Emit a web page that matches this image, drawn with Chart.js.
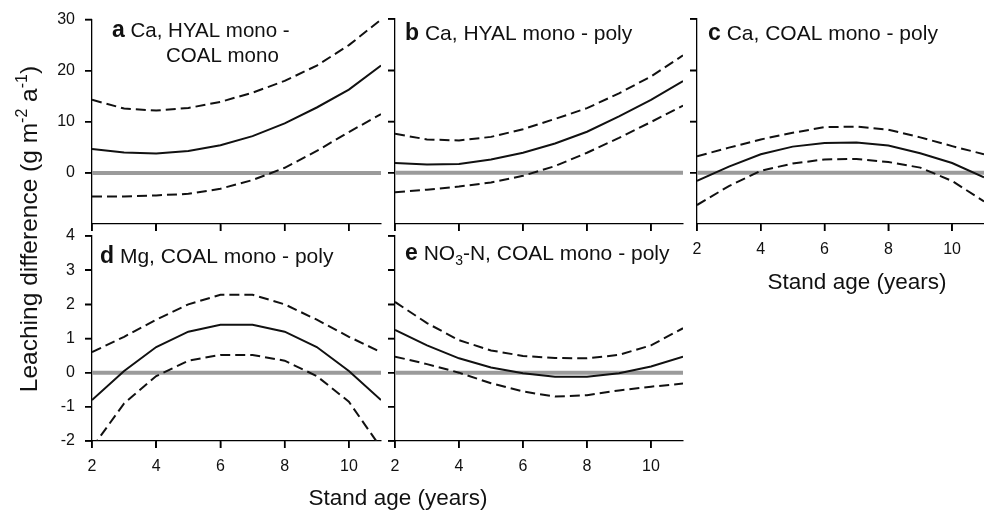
<!DOCTYPE html>
<html><head><meta charset="utf-8">
<script src="https://cdn.jsdelivr.net/npm/chart.js@4.4.1/dist/chart.umd.min.js"></script>
<style>
html,body{margin:0;padding:0;background:#fff;}
#wrap{position:relative;width:984px;height:511px;overflow:hidden;background:#fff;}
#wrap canvas{position:absolute;left:0;top:0;}
</style></head><body><div id="wrap">
<canvas id="pa" width="984" height="511"></canvas>
<canvas id="pb" width="984" height="511"></canvas>
<canvas id="pc" width="984" height="511"></canvas>
<canvas id="pd" width="984" height="511"></canvas>
<canvas id="pe" width="984" height="511"></canvas>
</div>
<script>
// ---- data ----
const standAge = [2,3,4,5,6,7,8,9,10,11];
const zeroX = [2,11];
const zeroY = [0,0];
const xTickVals = [2,4,6,8,10];
const caTickVals = [0,10,20,30];
const smallTickVals = [-2,-1,0,1,2,3,4];

const aMean  = [4.7,4.0,3.8,4.3,5.4,7.2,9.7,12.8,16.3,21.0];
const aUpper = [14.3,12.6,12.2,12.7,13.9,15.7,18.0,21.0,25.0,30.0];
const aLower = [-4.6,-4.6,-4.4,-4.1,-3.1,-1.4,1.0,4.3,8.0,11.5];

const bMean  = [1.9,1.6,1.7,2.6,3.9,5.7,8.0,11.0,14.2,17.9];
const bUpper = [7.6,6.5,6.3,7.0,8.5,10.5,12.6,15.5,18.8,22.9];
const bLower = [-3.8,-3.3,-2.7,-1.9,-0.6,1.3,3.9,6.8,9.9,13.1];

const cMean  = [-1.6,1.2,3.6,5.1,5.8,5.9,5.3,3.8,1.9,-0.9];
const cUpper = [3.2,4.9,6.5,7.8,8.9,9.0,8.4,6.9,5.2,3.6];
const cLower = [-6.3,-2.6,0.4,1.8,2.6,2.7,2.1,1.0,-1.6,-5.6];

const dMean  = [-0.8,0.05,0.75,1.2,1.4,1.4,1.2,0.75,0.05,-0.8];
const dUpper = [0.6,1.05,1.55,2.0,2.28,2.28,2.0,1.55,1.05,0.6];
const dLower = [-2.2,-0.9,-0.1,0.35,0.52,0.52,0.35,-0.1,-0.85,-2.2];

const eMean  = [1.25,0.8,0.42,0.15,-0.02,-0.12,-0.12,-0.02,0.18,0.47];
const eUpper = [2.07,1.45,0.95,0.65,0.49,0.43,0.42,0.52,0.8,1.3];
const eLower = [0.47,0.25,0.0,-0.31,-0.55,-0.7,-0.66,-0.52,-0.41,-0.32];

// ---- helpers ----
const FAM = "'Liberation Sans', Arial, Helvetica, sans-serif";
const INK = '#111111';
const zip = (xs, ys) => xs.map((x,i)=>({x:x, y:ys[i]}));

function drawRich(ctx, x, y, parts){
  for (const p of parts){
    ctx.font = p.font;
    ctx.fillText(p.t, x, y + (p.dy||0));
    x += ctx.measureText(p.t).width;
  }
}
function richWidth(ctx, parts){
  let w = 0;
  for (const p of parts){ ctx.font = p.font; w += ctx.measureText(p.t).width; }
  return w;
}
const BOLD = 'bold 23px ' + FAM;
const REG = '21px ' + FAM;
const REG_A = '20.5px ' + FAM;
const AX = '22.5px ' + FAM;
const TICK_LEN = 7;

function makePanel(id, o){
  const ds = [
    {data: zip(zeroX, zeroY), borderColor:'#9b9b9b', borderWidth:4, order:3},
    {data: zip(standAge, o.upper), borderColor:INK, borderWidth:2, borderDash:[10,5], order:1},
    {data: zip(standAge, o.mean), borderColor:INK, borderWidth:2, order:0},
    {data: zip(standAge, o.lower), borderColor:INK, borderWidth:2, borderDash:[10,5], order:1}
  ];
  const gridOpts = {display:true, drawOnChartArea:false, drawTicks:true, tickLength:TICK_LEN,
    tickWidth:1.5, tickColor:'#000000', color:'#000000', lineWidth:1.5};
  new Chart(document.getElementById(id), {
    type:'line',
    data:{datasets: ds},
    options:{
      responsive:false, animation:false, events:[],
      layout:{padding:o.pad},
      elements:{point:{radius:0}, line:{tension:0, fill:false, borderCapStyle:'butt'}},
      plugins:{legend:{display:false}, tooltip:{enabled:false}, title:{display:false}},
      scales:{
        x:{type:'linear', min:2, max:11,
          afterFit: s => { s.height = 40; },
          afterBuildTicks: s => { s.ticks = xTickVals.map(v=>({value:v})); },
          ticks:{display:o.xLabels, font:{family:FAM, size:16}, color:INK, padding:9, maxRotation:0, autoSkip:false},
          grid:gridOpts,
          border:{display:true, color:'#000000', width:1.3}
        },
        y:{type:'linear', min:o.ymin, max:o.ymax,
          afterFit: s => { s.width = 40; },
          afterBuildTicks: s => { s.ticks = o.yTicks.map(v=>({value:v})); },
          ticks:{display:o.yLabels, font:{family:FAM, size:16}, color:INK, padding:10, autoSkip:false},
          grid:gridOpts,
          border:{display:true, color:'#000000', width:1.3}
        }
      }
    },
    plugins:[{id:'txt', afterDraw(chart){
      const ctx = chart.ctx, ca = chart.chartArea, xs = chart.scales.x, ys = chart.scales.y;
      ctx.save();
      // outward tick marks
      ctx.strokeStyle = '#000000'; ctx.lineWidth = 1.5; ctx.setLineDash([]);
      ctx.beginPath();
      for (const t of xs.ticks){ const px = xs.getPixelForValue(t.value); ctx.moveTo(px, ca.bottom); ctx.lineTo(px, ca.bottom + TICK_LEN); }
      for (const t of ys.ticks){ const py = ys.getPixelForValue(t.value); ctx.moveTo(ca.left, py); ctx.lineTo(ca.left - TICK_LEN, py); }
      ctx.stroke();
      ctx.fillStyle = INK; ctx.textBaseline='alphabetic';
      o.text(ctx);
      ctx.restore();
    }}]
  });
}

makePanel('pa', {mean:aMean, upper:aUpper, lower:aLower, ymin:-10, ymax:30, yTicks:caTickVals,
  xLabels:false, yLabels:true, pad:{left:52, right:603, top:19, bottom:247},
  text: ctx => {
    drawRich(ctx, 112, 37, [{t:'a', font:BOLD}, {t:' Ca, HYAL mono -', font:REG_A}]);
    drawRich(ctx, 166, 62, [{t:'COAL mono', font:REG_A}]);
  }});
makePanel('pb', {mean:bMean, upper:bUpper, lower:bLower, ymin:-10, ymax:30, yTicks:caTickVals,
  xLabels:false, yLabels:false, pad:{left:355, right:301, top:19, bottom:247},
  text: ctx => {
    drawRich(ctx, 405, 40, [{t:'b', font:BOLD}, {t:' Ca, HYAL mono - poly', font:REG}]);
  }});
makePanel('pc', {mean:cMean, upper:cUpper, lower:cLower, ymin:-10, ymax:30, yTicks:caTickVals,
  xLabels:true, yLabels:false, pad:{left:657, right:0, top:19, bottom:247},
  text: ctx => {
    drawRich(ctx, 708, 40, [{t:'c', font:BOLD}, {t:' Ca, COAL mono - poly', font:REG}]);
    ctx.font = AX; ctx.textAlign = 'center';
    ctx.fillText('Stand age (years)', 857, 289);
  }});
makePanel('pd', {mean:dMean, upper:dUpper, lower:dLower, ymin:-2, ymax:4, yTicks:smallTickVals,
  xLabels:true, yLabels:true, pad:{left:52, right:603, top:236, bottom:30},
  text: ctx => {
    drawRich(ctx, 100, 263, [{t:'d', font:BOLD}, {t:' Mg, COAL mono - poly', font:REG}]);
    ctx.font = AX; ctx.textAlign = 'center';
    ctx.fillText('Stand age (years)', 398, 505);
    ctx.textAlign = 'left';
    const F = '24.5px ' + FAM, S = '16px ' + FAM;
    const parts = [{t:'Leaching difference (g m', font:F}, {t:'-2', font:S, dy:-10}, {t:' a', font:F}, {t:'-1', font:S, dy:-10}, {t:')', font:F}];
    const w = richWidth(ctx, parts);
    ctx.translate(37, 229);
    ctx.rotate(-Math.PI/2);
    drawRich(ctx, -w/2, 0, parts);
  }});
makePanel('pe', {mean:eMean, upper:eUpper, lower:eLower, ymin:-2, ymax:4, yTicks:smallTickVals,
  xLabels:true, yLabels:false, pad:{left:355, right:301, top:236, bottom:30},
  text: ctx => {
    drawRich(ctx, 405, 260, [{t:'e', font:BOLD}, {t:' NO', font:REG}, {t:'3', font:'14px '+FAM, dy:5}, {t:'-N, COAL mono - poly', font:REG}]);
  }});
</script>
</body></html>
